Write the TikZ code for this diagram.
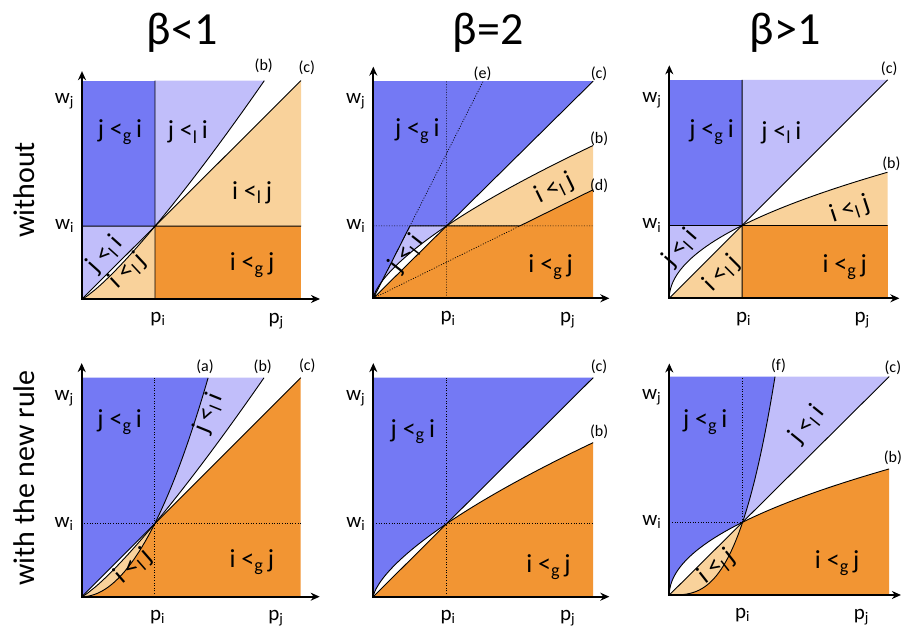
\documentclass[tikz,border=0pt]{standalone}
\usepackage{fontspec}
\setmainfont{Carlito}
\usetikzlibrary{arrows.meta}
\definecolor{dblue}{HTML}{7479F4}
\definecolor{lblue}{HTML}{C1BEFA}
\definecolor{lorange}{HTML}{F9D29B}
\definecolor{dorange}{HTML}{F29533}
\newcommand\myG[2]{#1\ {<}\textsubscript{g}\,#2}
\newcommand\myL[2]{#1\ {<}\textsubscript{l}\,#2}
\tikzset{
  bnd/.style={line width=0.9pt, black},
  dotl/.style={line width=0.7pt, black, dash pattern=on 1pt off 1.6pt},
  axis/.style={line width=2pt, {Stealth[length=9pt,width=8pt]}-{Stealth[length=9pt,width=8pt]}},
  reg/.style={font=\fontsize{26}{28}\selectfont, inner sep=0pt},
  cl/.style={font=\fontsize{16}{18}\selectfont, inner sep=0pt},
  ax/.style={font=\fontsize{21}{23}\selectfont, inner sep=0pt},
  ttl/.style={font=\fontsize{46}{50}\selectfont, inner sep=0pt, anchor=base},
  side/.style={font=\fontsize{30}{32}\selectfont, rotate=90, inner sep=0pt},
}
\begin{document}
\begin{tikzpicture}[x=1pt,y=1pt]
\useasboundingbox (0,0) rectangle (902,628);
\fill[white] (0,0) rectangle (902,628);
% titles
\node[ttl] (t1) at (182,583) {β<1};
\node[ttl] (t2) at (488,583) {β=2};
\node[ttl] (t3) at (785,583) {β>1};
\node[side] (s1) at (24,438) {without};
\node[side] (s2) at (24,150) {with the new rule};

% ---------- Panel 1 ----------
\begin{scope}[shift={(82pt,329pt)},x=73pt,y=72.8pt]
\fill[dblue] (0,1) rectangle (1,3);
\fill[dorange] (1,0) rectangle (3,1);
\fill[lblue] (1,1) -- (1,3) -- (2.498,3) -- plot[domain=2.498:1,samples=40] (\x,{\x^1.2}) -- cycle;
\fill[lorange] (1,1) -- (3,3) -- (3,1) -- cycle;
\fill[lblue] (0,0) -- (1,1) -- (0,1) -- cycle;
\fill[lorange] (0,0) -- plot[domain=0.001:1,samples=40] (\x,{\x^1.2}) -- (1,0) -- cycle;
\draw[bnd] (1,0) -- (1,3) (0,1) -- (3,1) (0,0) -- (3,3);
\draw[bnd] (0,0) -- plot[domain=0.001:2.498,samples=60] (\x,{\x^1.2});
\coordinate (a1o) at (0,0); \coordinate (a1y) at (0,3.13); \coordinate (a1x) at (3.26,0);
\draw[axis] (a1y) -- (a1o) -- (a1x);
\node[ax] (w1j) at (-0.24,2.72) {w\textsubscript{j}};
\node[ax] (w1i) at (-0.24,1.0) {w\textsubscript{i}};
\node[ax] (p1i) at (1.04,-0.28) {p\textsubscript{i}};
\node[ax] (p1j) at (2.66,-0.3) {p\textsubscript{j}};
\node[cl] (c1b) at (2.49,3.21) {(b)};
\node[cl] (c1c) at (3.08,3.18) {(c)};
\node[reg] (r1a) at (0.52,2.29) {\myG{j}{i}};
\node[reg] (r1b) at (1.45,2.29) {\myL{j}{i}};
\node[reg] (r1c) at (2.33,1.46) {\myL{i}{j}};
\node[reg] (r1d) at (2.33,0.47) {\myG{i}{j}};
\node[reg,rotate=48] (r1e) at (0.32,0.61) {\myL{j}{i}};
\node[reg,rotate=43] (r1f) at (0.63,0.39) {\myL{i}{j}};
\end{scope}

% ---------- Panel 2 ----------
\begin{scope}[shift={(373.3pt,329.7pt)},x=73.3pt,y=72.4pt]
\fill[dblue] (0,0) -- (0.5,1) -- (1,1) -- (3,3) -- (0,3) -- cycle;
\fill[lblue] (0,0) -- (0.5,1) -- (1,1) -- plot[domain=1:0.001,samples=40] ({\x^1.4706},\x) -- cycle;
\fill[dorange] (0,0) -- (1,1) -- (2,1) -- (3,1.5) -- (3,0) -- cycle;
\fill[lorange] (1,1) -- plot[domain=1:3,samples=40] (\x,{\x^0.68}) -- (3,1.5) -- (2,1) -- cycle;
\draw[dotl] (1,0) -- (1,3) (0,1) -- (3,1) (0,0) -- (1.5,3) (0,0) -- (2,1);
\draw[bnd] (0,0) -- (0.5,1) -- (2,1) -- (3,1.5) (0,0) -- (3,3);
\draw[bnd] (0,0) -- plot[domain=0.001:2.111,samples=60] ({\x^1.4706},\x);
\coordinate (a2o) at (0,0); \coordinate (a2y) at (0,3.2); \coordinate (a2x) at (3.22,0);
\draw[axis] (a2y) -- (a2o) -- (a2x);
\node[ax] (w2j) at (-0.24,2.72) {w\textsubscript{j}};
\node[ax] (w2i) at (-0.24,1.0) {w\textsubscript{i}};
\node[ax] (p2i) at (1.02,-0.28) {p\textsubscript{i}};
\node[ax] (p2j) at (2.65,-0.3) {p\textsubscript{j}};
\node[cl] (c2e) at (1.49,3.10) {(e)};
\node[cl] (c2c) at (3.08,3.10) {(c)};
\node[cl] (c2b) at (3.08,2.21) {(b)};
\node[cl] (c2d) at (3.08,1.55) {(d)};
\node[reg] (r2a) at (0.6,2.31) {\myG{j}{i}};
\node[reg] (r2d) at (2.42,0.43) {\myG{i}{j}};
\node[reg,rotate=26] (r2c) at (2.47,1.51) {\myL{i}{j}};
\node[reg,rotate=52] (r2e) at (0.46,0.62) {\myL{j}{i}};
\end{scope}

% ---------- Panel 3 ----------
\begin{scope}[shift={(669.3pt,329.7pt)},x=72.8pt,y=72.8pt]
\fill[dblue] (0,1) rectangle (1,3);
\fill[lblue] (1,1) -- (1,3) -- (3,3) -- cycle;
\fill[lorange] (1,1) -- plot[domain=1:1.7320508,samples=40] ({\x*\x},\x) -- (3,1) -- cycle;
\fill[dorange] (1,0) rectangle (3,1);
\fill[lblue] (0,0) -- plot[domain=0:1,samples=40] ({\x*\x},\x) -- (0,1) -- cycle;
\fill[lorange] (0,0) -- (1,1) -- (1,0) -- cycle;
\draw[bnd] (1,0) -- (1,3) (0,1) -- (3,1) (0,0) -- (3,3);
\draw[bnd] plot[domain=0:1.7320508,samples=60] ({\x*\x},\x);
\coordinate (a3o) at (0,0); \coordinate (a3y) at (0,3.2); \coordinate (a3x) at (3.16,0);
\draw[axis] (a3y) -- (a3o) -- (a3x);
\node[ax] (w3j) at (-0.24,2.72) {w\textsubscript{j}};
\node[ax] (w3i) at (-0.24,1.0) {w\textsubscript{i}};
\node[ax] (p3i) at (1.02,-0.28) {p\textsubscript{i}};
\node[ax] (p3j) at (2.65,-0.3) {p\textsubscript{j}};
\node[cl] (c3c) at (3.02,3.15) {(c)};
\node[cl] (c3b) at (3.05,1.85) {(b)};
\node[reg] (r3a) at (0.58,2.28) {\myG{j}{i}};
\node[reg] (r3b) at (1.54,2.28) {\myL{j}{i}};
\node[reg,rotate=18] (r3c) at (2.48,1.22) {\myL{i}{j}};
\node[reg] (r3d) at (2.41,0.43) {\myG{i}{j}};
\node[reg,rotate=49] (r3e) at (0.15,0.69) {\myL{j}{i}};
\node[reg,rotate=45] (r3f) at (0.72,0.34) {\myL{i}{j}};
\end{scope}

% ---------- Panel 4 ----------
\begin{scope}[shift={(81.7pt,31.3pt)},x=73pt,y=73pt]
\fill[dblue] (0,0) -- (1,1) -- plot[domain=1:1.7320508,samples=40] (\x,{\x*\x}) -- (0,3) -- cycle;
\fill[lblue] (1,1) -- plot[domain=1:1.7320508,samples=40] (\x,{\x*\x}) -- (2.498,3) -- plot[domain=2.498:1,samples=40] (\x,{\x^1.2}) -- cycle;
\fill[lorange] (0,0) -- plot[domain=0.001:1,samples=40] (\x,{\x^1.2}) -- plot[domain=1:0,samples=40] (\x,{\x*\x}) -- cycle;
\fill[dorange] (0,0) -- plot[domain=0:1,samples=40] (\x,{\x*\x}) -- (3,3) -- (3,0) -- cycle;
\draw[dotl] (1,0) -- (1,3) (0,1) -- (3,1);
\draw[bnd] (0,0) -- (3,3);
\draw[bnd] plot[domain=0:1.7320508,samples=60] (\x,{\x*\x});
\draw[bnd] (0,0) -- plot[domain=0.001:2.498,samples=60] (\x,{\x^1.2});
\coordinate (a4o) at (0,0); \coordinate (a4y) at (0,3.2); \coordinate (a4x) at (3.26,0);
\draw[axis] (a4y) -- (a4o) -- (a4x);
\node[ax] (w4j) at (-0.24,2.72) {w\textsubscript{j}};
\node[ax] (w4i) at (-0.24,1.0) {w\textsubscript{i}};
\node[ax] (p4i) at (1.04,-0.28) {p\textsubscript{i}};
\node[ax] (p4j) at (2.66,-0.3) {p\textsubscript{j}};
\node[cl] (c4a) at (1.69,3.15) {(a)};
\node[cl] (c4b) at (2.48,3.15) {(b)};
\node[cl] (c4c) at (3.09,3.17) {(c)};
\node[reg] (r4a) at (0.52,2.39) {\myG{j}{i}};
\node[reg] (r4d) at (2.33,0.47) {\myG{i}{j}};
\node[reg,rotate=68] (r4b) at (1.74,2.51) {\myL{j}{i}};
\node[reg,rotate=41] (r4f) at (0.71,0.41) {\myL{i}{j}};
\end{scope}

% ---------- Panel 5 ----------
\begin{scope}[shift={(373.3pt,31.3pt)},x=73.3pt,y=73pt]
\fill[dblue] (0,0) -- plot[domain=0.001:1,samples=40] ({\x^1.4706},\x) -- (3,3) -- (0,3) -- cycle;
\fill[dorange] (0,0) -- (1,1) -- plot[domain=1:3,samples=40] (\x,{\x^0.68}) -- (3,0) -- cycle;
\draw[dotl] (1,0) -- (1,3) (0,1) -- (3,1);
\draw[bnd] (0,0) -- (3,3);
\draw[bnd] (0,0) -- plot[domain=0.001:2.111,samples=60] ({\x^1.4706},\x);
\coordinate (a5o) at (0,0); \coordinate (a5y) at (0,3.2); \coordinate (a5x) at (3.22,0);
\draw[axis] (a5y) -- (a5o) -- (a5x);
\node[ax] (w5j) at (-0.24,2.72) {w\textsubscript{j}};
\node[ax] (w5i) at (-0.24,1.0) {w\textsubscript{i}};
\node[ax] (p5i) at (1.02,-0.28) {p\textsubscript{i}};
\node[ax] (p5j) at (2.65,-0.3) {p\textsubscript{j}};
\node[cl] (c5c) at (3.08,3.15) {(c)};
\node[cl] (c5b) at (3.08,2.26) {(b)};
\node[reg] (r5a) at (0.54,2.26) {\myG{j}{i}};
\node[reg] (r5d) at (2.39,0.41) {\myG{i}{j}};
\end{scope}

% ---------- Panel 6 ----------
\begin{scope}[shift={(669.3pt,33pt)},x=73.3pt,y=72.8pt]
\fill[dblue] (0,0) -- plot[domain=0:1,samples=40] ({\x*\x},\x) -- plot[domain=1:1.44225,samples=30] (\x,{\x*\x*\x}) -- (0,3) -- cycle;
\fill[lblue] (1,1) -- plot[domain=1:1.44225,samples=30] (\x,{\x*\x*\x}) -- (3,3) -- cycle;
\fill[lorange] (0,0) -- (1,1) -- plot[domain=1:0,samples=40] (\x,{\x*\x*\x}) -- cycle;
\fill[dorange] (0,0) -- plot[domain=0:1,samples=40] (\x,{\x*\x*\x}) -- plot[domain=1:1.7320508,samples=40] ({\x*\x},\x) -- (3,0) -- cycle;
\draw[dotl] (1,1) -- (1,3) (0,1) -- (1,1);
\draw[bnd] (0,0) -- (3,3);
\draw[bnd] plot[domain=0:1.44225,samples=60] (\x,{\x*\x*\x});
\draw[bnd] plot[domain=0:1.7320508,samples=60] ({\x*\x},\x);
\coordinate (a6o) at (0,0); \coordinate (a6y) at (0,3.18); \coordinate (a6x) at (3.16,0);
\draw[axis] (a6y) -- (a6o) -- (a6x);
\node[ax] (w6j) at (-0.24,2.72) {w\textsubscript{j}};
\node[ax] (w6i) at (-0.24,1.0) {w\textsubscript{i}};
\node[ax] (p6i) at (1.0,-0.28) {p\textsubscript{i}};
\node[ax] (p6j) at (2.62,-0.3) {p\textsubscript{j}};
\node[cl] (c6f) at (1.49,3.15) {(f)};
\node[cl] (c6c) at (3.05,3.12) {(c)};
\node[cl] (c6b) at (3.05,1.88) {(b)};
\node[reg] (r6a) at (0.49,2.37) {\myG{j}{i}};
\node[reg] (r6d) at (2.29,0.44) {\myG{i}{j}};
\node[reg,rotate=51] (r6b) at (1.88,2.34) {\myL{j}{i}};
\node[reg,rotate=38] (r6f) at (0.65,0.39) {\myL{i}{j}};
\end{scope}
\end{tikzpicture}
\end{document}
